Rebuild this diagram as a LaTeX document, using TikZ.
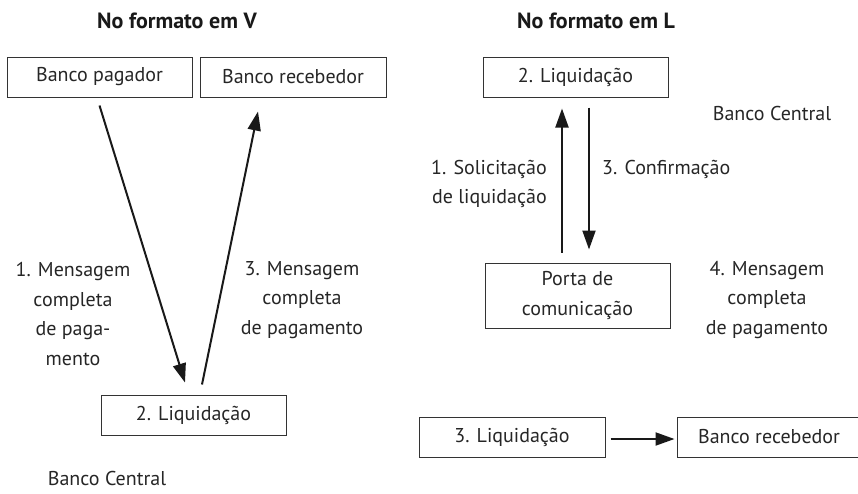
\documentclass[tikz,border=0pt]{standalone}
\usepackage{fontspec}
\setmainfont{PT Sans}
\usetikzlibrary{arrows.meta,calc}
\newcommand\bodyfont{\fontsize{20}{29.5}\selectfont}
\newcommand\titlefont{\fontsize{22}{24}\selectfont\bfseries}
\begin{document}
\begin{tikzpicture}[x=1pt,y=-1pt,
  box/.style={draw=black!80, line width=1pt, minimum height=40pt, inner sep=0pt, font=\bodyfont, text=black!85},
  lbl/.style={align=center, font=\bodyfont, inner sep=0pt, text=black!85},
  ttl/.style={font=\titlefont, inner sep=0pt, text=black!90},
  arr/.style={draw=black!90, line width=2pt, -{Triangle[length=19pt,width=13pt]}}]
\useasboundingbox (0,0) rectangle (858,493);
\clip (0,0) rectangle (858,493);
% titles
\node[ttl] (tV) at (177,21) {No formato em V};
\node[ttl] (tL) at (596,21) {No formato em L};
% V format
\node[box, minimum width=185pt] (pag) at (99.5,77) {Banco pagador};
\node[box, minimum width=186pt] (recV) at (293,77) {Banco recebedor};
\node[box, minimum width=185pt] (liqV) at (193.5,415) {2. Liquidação};
\node[lbl] (bcV) at (107,478) {Banco Central};
\node[lbl] (m1) at (73,314) {1. Mensagem\\completa\\de paga-\\mento};
\node[lbl] (m3) at (302,300) {3. Mensagem\\completa\\de pagamento};
\draw[arr] ($(pag.south)+(0,8)$) -- ($(liqV.north)+(-8.5,-12)$);
\draw[arr] ($(liqV.north)+(8.5,-10)$) -- ($(recV.south)+(-35,14)$);
% L format
\node[box, minimum width=185pt] (liqL) at (575.5,77) {2. Liquidação};
\node[lbl] (bcL) at (772,113) {Banco Central};
\node[box, minimum width=185pt, minimum height=65pt, align=center] (porta) at (577.5,295.5) {Porta de\\comunicação};
\node[lbl, align=right, anchor=east] (sol) at (547,184) {1. Solicitação\\de liquidação};
\node[lbl, anchor=west] (conf) at (602,169) {3. Confirmação};
\node[lbl] (m4) at (767,300) {4. Mensagem\\completa\\de pagamento};
\node[box, minimum width=186pt] (liq3) at (512,437) {3. Liquidação};
\node[box, minimum width=184pt] (recL) at (769,437) {Banco recebedor};
\draw[arr] ($(porta.north)+(-15.5,-10)$) -- ($(liqL.south)+(-13.5,11)$);
\draw[arr] ($(liqL.south)+(13.5,10)$) -- ($(porta.north)+(11.5,-13)$);
\draw[arr] ($(liq3.east)+(5,2)$) -- ($(recL.west)+(-2,2)$);
\end{tikzpicture}
\end{document}
